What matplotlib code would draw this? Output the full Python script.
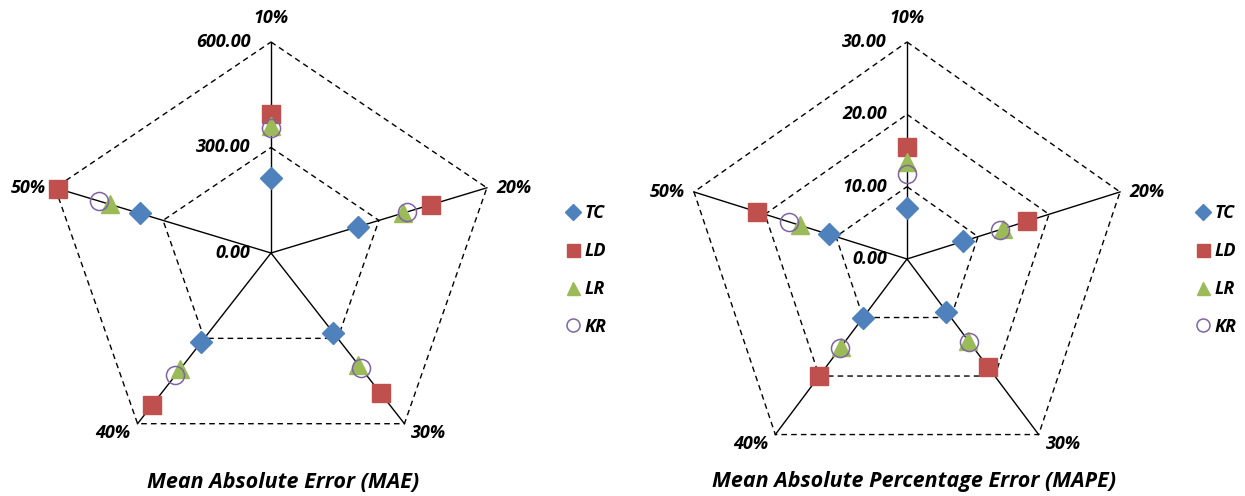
import numpy as np
import matplotlib
matplotlib.use('Agg')
import matplotlib.pyplot as plt

plt.rcParams['font.family'] = ['Open Sans', 'DejaVu Sans']

# error rates used as radar spokes
categories = ['10%', '20%', '30%', '40%', '50%']
methods = ['TC', 'LD', 'LR', 'KR']

mae_tc = [213, 242, 280, 313, 365]
mae_ld = [395, 444, 493, 535, 592]
mae_lr = [361, 367, 393, 409, 448]
mae_kr = [355, 378, 405, 430, 479]
mae_ticks = [0, 300, 600]

mape_tc = [7.0, 7.9, 9.0, 10.0, 11.0]
mape_ld = [15.5, 16.9, 18.5, 20.0, 21.1]
mape_lr = [13.4, 13.5, 14.0, 15.0, 15.1]
mape_kr = [11.7, 13.1, 14.2, 15.2, 16.6]
mape_ticks = [0, 10, 20, 30]

styles = {
    'TC': dict(marker='D', ms=11, color='#4F81BD', mec='#4F81BD'),
    'LD': dict(marker='s', ms=13, color='#C0504D', mec='#C0504D'),
    'LR': dict(marker='^', ms=13, color='#9BBB59', mec='#9BBB59'),
    'KR': dict(marker='o', ms=13, color='none', mec='#8064A2', mew=1.1),
}

W, H = 1245, 496
fig = plt.figure(figsize=(W / 100, H / 100), dpi=100)

angles = np.deg2rad(90 - 72 * np.arange(len(categories)))


def radar(cx, cy, rx, ry, series, ticks, title, title_x, legend_x):
    half_w, half_h = 1.35 * rx, 1.35 * ry
    ax = fig.add_axes([(cx - half_w) / W, (cy - half_h) / H,
                       2 * half_w / W, 2 * half_h / H])
    ax.set_xlim(-1.35, 1.35)
    ax.set_ylim(-1.35, 1.35)
    ax.axis('off')
    top = ticks[-1]
    ux, uy = np.cos(angles), np.sin(angles)

    # dashed pentagon rings and solid spokes
    for t in ticks[1:]:
        f = t / top
        ax.plot(np.append(ux, ux[0]) * f, np.append(uy, uy[0]) * f,
                ls=(0, (4, 3)), color='black', lw=1, clip_on=False)
    for x, y in zip(ux, uy):
        ax.plot([0, x], [0, y], color='black', lw=1, clip_on=False)

    for t in ticks:
        ax.text(-0.09, t / top, f'{t:.2f}', ha='right', va='center',
                fontsize=13, fontweight='bold', fontstyle='italic')

    offsets = [(0, 0.07, 'center', 'bottom'), (0.04, 0, 'left', 'center'),
               (0.03, 0.0, 'left', 'top'), (-0.03, 0.0, 'right', 'top'),
               (-0.04, 0, 'right', 'center')]
    for lab, x, y, (dx, dy, ha, va) in zip(categories, ux, uy, offsets):
        ax.text(x + dx, y + dy, lab, ha=ha, va=va, fontsize=13,
                fontweight='bold', fontstyle='italic')

    for name in methods:
        r = np.array(series[name]) / top
        ax.plot(r * ux, r * uy, ls='none', clip_on=False, **styles[name])

    fig.text(title_x / W, 14 / H, title, ha='center', va='center',
             fontsize=15.5, fontweight='bold', fontstyle='italic')

    leg_handles = []
    for name in methods:
        st = dict(styles[name])
        st['ms'] = st['ms'] * 0.72
        leg_handles.append(plt.Line2D([], [], ls='none', **st))
    fig.legend(leg_handles, methods, loc='center left',
               bbox_to_anchor=(legend_x / W, 226 / H), frameon=False,
               handletextpad=0.05, labelspacing=1.1, handlelength=1.2,
               prop=dict(size=13, weight='bold', style='italic'))


radar(271, 243, 227, 211,
      {'TC': mae_tc, 'LD': mae_ld, 'LR': mae_lr, 'KR': mae_kr},
      mae_ticks, 'Mean Absolute Error (MAE)', 283, 546)
radar(907, 237, 224, 217,
      {'TC': mape_tc, 'LD': mape_ld, 'LR': mape_lr, 'KR': mape_kr},
      mape_ticks, 'Mean Absolute Percentage Error (MAPE)', 914, 1176)

fig.savefig('out.png', dpi=100)
